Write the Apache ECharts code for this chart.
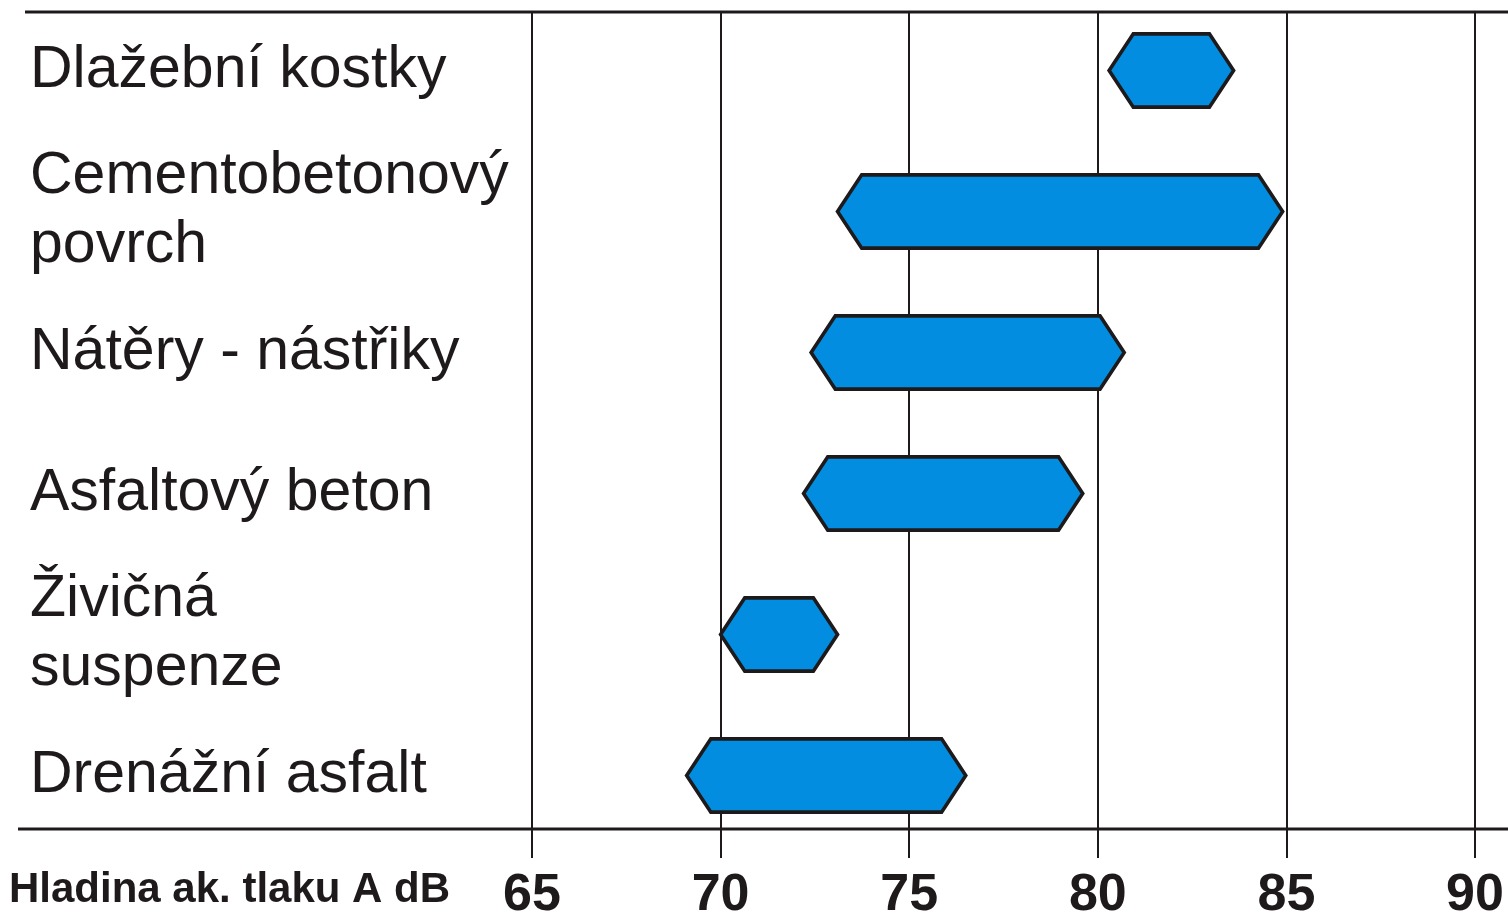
<!DOCTYPE html>
<html>
<head>
<meta charset="utf-8">
<script src="https://cdn.jsdelivr.net/npm/echarts@6/dist/echarts.min.js"></script>
<style>
html,body{margin:0;padding:0;background:#fff;}
#chart{width:1508px;height:913px;}
</style>
</head>
<body>
<div id="chart"></div>
<script>
// Data
const categories = ['Dlažební kostky', 'Cementobetonový\npovrch', 'Nátěry - nástřiky', 'Asfaltový beton', 'Živičná\nsuspenze', 'Drenážní asfalt'];
const lowValues  = [80.3, 73.1, 72.4, 72.2, 70.0, 69.1];
const highValues = [83.6, 84.9, 80.7, 79.6, 73.1, 76.5];
const xTicks = [65, 70, 75, 80, 85, 90];
const axisTitle = 'Hladina ak. tlaku A dB';

const INK = '#1e1a1b';
const BLUE = '#028de0';

const rangeData = categories.map((c, i) => [lowValues[i], highValues[i], i]);

const chart = echarts.init(document.getElementById('chart'), null, {renderer: 'canvas'});

const option = {
  animation: false,
  backgroundColor: '#fff',
  title: {
    text: axisTitle,
    left: 9,
    top: 869,
    padding: 0,
    textStyle: {fontFamily: 'Liberation Sans, Arial, sans-serif', fontWeight: 'bold', fontSize: 42, color: INK}
  },
  grid: [
    {left: 532, right: 33, top: 12, bottom: 55, outerBoundsMode: 'none', containLabel: false},
    {left: 532, right: 33, top: 0, bottom: 67, outerBoundsMode: 'none', containLabel: false}
  ],
  xAxis: [
    {
      gridIndex: 0, type: 'value', min: xTicks[0], max: xTicks[xTicks.length - 1], interval: 5,
      axisLine: {show: false},
      axisTick: {show: false},
      splitLine: {show: true, lineStyle: {color: INK, width: 2, type: 'solid'}},
      axisLabel: {
        margin: 38, verticalAlign: 'middle',
        fontFamily: 'Liberation Sans, Arial, sans-serif', fontWeight: 'bold', fontSize: 52, color: INK
      }
    },
    {
      gridIndex: 1, type: 'value', min: xTicks[0], max: xTicks[xTicks.length - 1], interval: 5,
      show: false
    }
  ],
  yAxis: [
    {gridIndex: 0, type: 'value', show: false, splitLine: {show: false}},
    {
      gridIndex: 1, type: 'category', data: categories, inverse: true,
      axisLine: {show: false}, axisTick: {show: false}, splitLine: {show: false},
      axisLabel: {
        margin: 502, align: 'left', interval: 0,
        fontFamily: 'Liberation Sans, Arial, sans-serif', fontSize: 59, lineHeight: 69, color: INK
      }
    }
  ],
  graphic: [
    {type: 'line', shape: {x1: 25, y1: 12, x2: 1508, y2: 12}, style: {stroke: INK, lineWidth: 3}, z: 10},
    {type: 'line', shape: {x1: 18, y1: 829, x2: 1508, y2: 829}, style: {stroke: INK, lineWidth: 3}, z: 10}
  ],
  series: [{
    type: 'custom',
    xAxisIndex: 1,
    yAxisIndex: 1,
    data: rangeData,
    encode: {x: [0, 1], y: 2},
    renderItem: function (params, api) {
      const cat = api.value(2);
      const p0 = api.coord([api.value(0), cat]);
      const p1 = api.coord([api.value(1), cat]);
      const band = api.size([0, 1])[1];
      const h = band * 0.52;
      const half = h / 2;
      const s = half * 0.66;
      const y = p0[1];
      const pts = [
        [p0[0], y],
        [p0[0] + s, y - half],
        [p1[0] - s, y - half],
        [p1[0], y],
        [p1[0] - s, y + half],
        [p0[0] + s, y + half]
      ];
      return {
        type: 'polygon',
        shape: {points: pts},
        style: {fill: BLUE, stroke: INK, lineWidth: 3.6, lineJoin: 'miter'}
      };
    }
  }]
};
chart.setOption(option);
</script>
</body>
</html>
